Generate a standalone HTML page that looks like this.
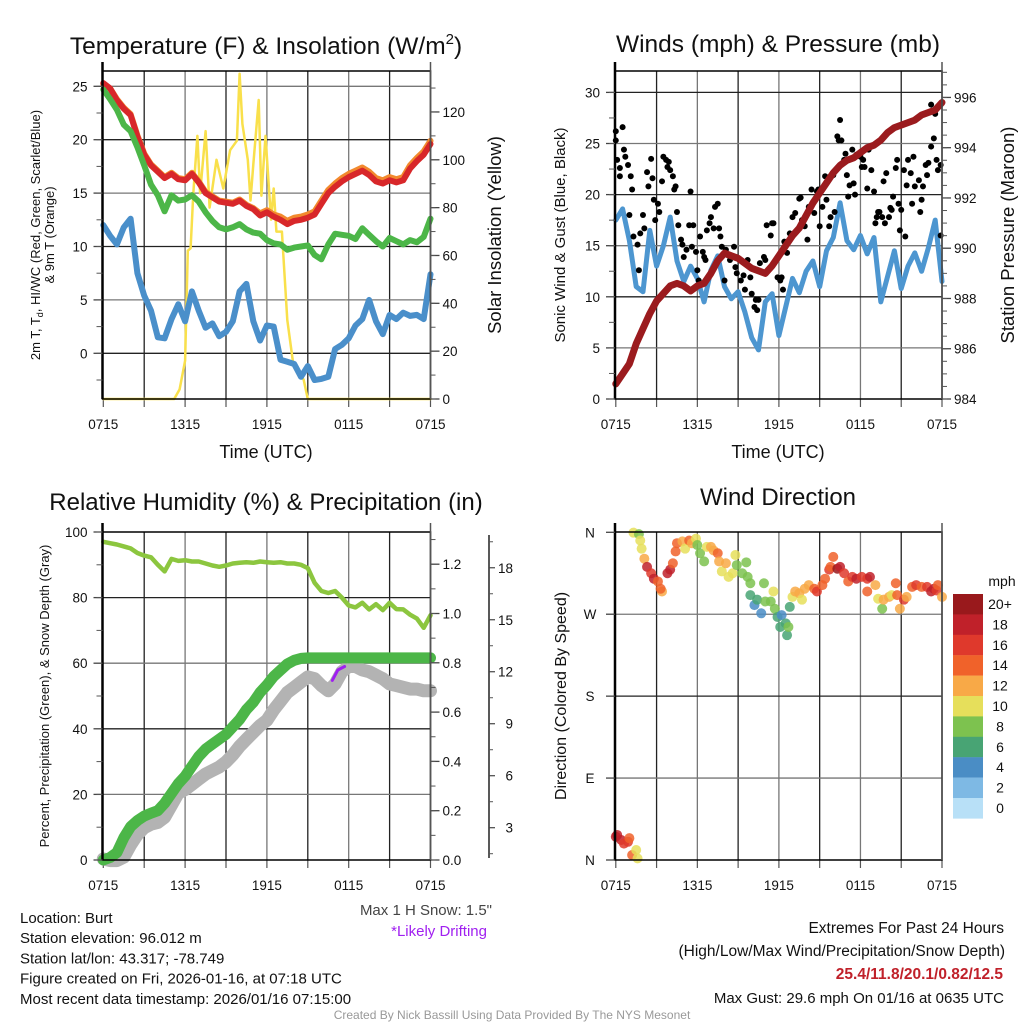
<!DOCTYPE html>
<html><head><meta charset="utf-8"><style>
html,body{margin:0;padding:0;background:#fff;}
svg{display:block;font-family:"Liberation Sans",Arial,sans-serif;}
</style></head><body>
<svg id="fig" width="1024" height="1024" viewBox="0 0 1024 1024" xmlns="http://www.w3.org/2000/svg"></svg>
<script>
// ---------- DATA (half-hourly, t = hours since 0715 UTC) ----------
const xLabels = ["0715","1315","1915","0115","0715"];
const tempRed = [25.3,24.8,23.7,22.9,22.3,20.3,18.6,17.6,17.0,16.4,16.8,16.3,16.2,16.8,16.0,15.0,14.6,14.2,14.1,14.0,14.3,13.8,13.5,12.9,13.2,12.8,12.5,12.1,12.4,12.5,12.7,13.0,14.0,15.0,15.6,16.1,16.5,16.8,17.1,16.7,16.1,15.9,16.2,16.0,16.2,17.3,18.0,18.6,19.6];
const temp9m = [25.2,24.8,23.8,23.0,22.4,20.4,18.7,17.7,17.1,16.5,16.9,16.4,16.3,16.9,16.1,15.1,14.7,14.3,14.2,14.1,14.4,13.9,13.6,13.1,13.4,13.0,12.8,12.4,12.7,12.8,13.0,13.3,14.3,15.3,15.9,16.4,16.8,17.1,17.4,17.0,16.4,16.2,16.5,16.3,16.5,17.6,18.3,18.9,19.9];
const tempGreen = [24.7,23.8,22.8,21.4,20.8,19.3,17.6,15.8,14.8,13.3,14.8,14.3,14.4,14.8,14.2,13.2,12.4,11.8,11.6,11.8,12.1,11.6,11.3,11.2,10.6,10.3,10.2,9.7,9.9,10.0,10.1,9.2,8.8,10.2,11.2,11.1,11.0,10.7,11.7,11.1,10.5,10.0,10.8,10.5,10.2,10.6,10.4,10.9,12.6];
const dewBlue = [12.0,11.0,10.2,11.8,12.6,7.5,5.4,4.0,1.5,1.4,3.2,4.6,3.0,5.8,4.0,2.4,2.8,1.6,2.0,3.0,5.8,6.5,3.0,1.2,2.6,2.5,-0.6,-0.8,-1.0,-2.2,-1.2,-2.5,-2.4,-2.2,0.4,0.8,1.4,2.6,3.2,5.0,3.0,1.8,3.6,3.2,3.8,3.5,3.6,3.2,7.4];
const solT = [0,5.2,5.6,6.0,6.2,6.4,6.6,6.9,7.1,7.5,7.8,8.3,8.8,9.3,9.8,10.0,10.2,10.6,10.8,11.0,11.4,11.6,11.9,12.3,12.5,12.7,13.1,13.5,13.9,14.3,14.7,15.0,24];
const solV = [0,0,4,16,62,63,86,110,86,112,80,100,88,104,108,136,115,100,83,98,125,85,110,75,88,70,70,33,16,12,8,0,0];
const windBlue = [17.5,18.6,15.5,11.0,10.5,16.5,13.0,15.0,17.8,13.5,11.5,13.0,11.8,9.5,12.6,14.0,11.0,9.8,10.5,8.5,6.0,4.8,9.5,10.3,6.2,9.0,11.8,10.4,12.5,13.5,11.0,14.5,15.8,19.2,15.5,14.6,16.0,14.2,15.8,9.5,12.0,14.5,10.8,13.0,14.3,12.5,14.8,17.5,11.5];
const pressure = [984.6,985.0,985.4,986.2,986.8,987.4,987.9,988.2,988.5,988.6,988.5,988.3,988.5,988.6,989.0,989.5,989.8,989.7,989.6,989.4,989.2,989.1,989.0,989.3,989.7,990.1,990.5,990.8,991.3,991.8,992.2,992.6,993.0,993.3,993.5,993.6,993.8,994.0,994.1,994.3,994.6,994.8,994.9,995.0,995.1,995.3,995.4,995.5,995.8];
const gustT = [0,0,0.1,0.3,0.5,0.6,0.7,0.9,0.3,1.1,1.2,1.0,1.3,1.6,1.7,1.8,2.0,2.1,2.3,2.4,2.6,2.7,2.8,2.9,3.1,3.2,3.4,3.5,3.7,3.8,3.9,4.0,4.2,4.3,4.4,4.5,4.6,4.8,4.9,5.0,5.2,5.4,5.5,5.6,5.7,5.9,6.0,6.1,6.2,6.4,6.5,6.6,6.7,6.9,7.0,7.2,7.3,7.5,7.6,7.7,7.8,8.0,8.1,8.2,8.4,8.7,8.8,8.9,9.2,9.4,9.5,9.7,9.9,10.0,10.2,10.3,10.4,10.5,10.6,10.9,11.0,11.1,11.4,11.5,11.6,11.9,12.1,12.2,12.3,12.4,12.6,12.8,13.0,13.2,13.5,13.6,13.7,13.9,14.1,14.2,14.4,14.6,14.8,14.9,15.0,15.2,15.4,15.5,15.7,15.8,16.0,16.1,16.3,16.4,16.5,16.6,16.8,16.9,17.0,17.1,17.2,17.4,17.5,17.6,17.7,18.0,18.1,18.2,18.3,18.5,18.6,18.8,19.0,19.1,19.2,19.3,19.4,19.6,19.7,19.8,19.9,20.1,20.2,20.3,20.4,20.6,20.7,20.8,20.9,21.0,21.2,21.3,21.4,21.5,21.7,21.8,21.9,22.0,22.3,22.4,22.5,22.6,22.8,22.9,23.0,23.2,23.2,23.4,23.5,23.6,23.7,23.9,23.9];
const gustV = [25.3,26.2,23.4,22.6,26.6,24.4,23.7,22.9,21.8,21.8,20.5,18.0,15.9,15.1,12.6,16.2,18.0,16.7,22.2,20.8,23.5,21.6,19.5,17.5,19.1,18.3,21.3,23.7,23.4,22.7,23.2,22.4,21.8,20.5,20.8,18.3,17.0,15.6,15.1,13.9,14.6,17.0,20.3,14.9,17.0,14.4,12.6,11.6,15.9,14.4,13.9,13.6,16.5,17.2,17.8,16.7,18.8,19.1,16.7,15.9,14.9,11.6,14.6,14.1,13.6,14.9,12.9,12.3,11.6,12.1,10.7,13.6,11.9,10.3,9.0,9.7,8.7,9.7,13.3,13.9,13.6,17.0,16.0,17.2,17.2,11.9,11.6,11.9,10.7,15.4,14.3,16.2,17.8,18.2,19.6,19.7,17.5,16.9,15.6,18.8,20.5,18.2,20.3,20.5,16.9,18.8,21.8,19.5,16.9,17.8,21.9,18.3,25.7,25.3,27.3,25.3,23.4,24.0,21.9,19.8,20.9,24.4,21.1,20.0,23.9,23.7,22.7,23.4,22.7,20.6,24.4,22.4,20.3,17.2,17.8,18.3,18.3,17.8,21.3,17.2,22.1,17.8,18.7,18.5,19.8,22.6,23.4,19.1,16.5,18.5,22.4,15.9,20.9,23.4,22.1,19.1,23.7,20.8,21.4,18.3,19.5,20.8,22.9,21.9,23.1,24.7,28.8,25.5,27.9,23.4,22.4,22.9,16.0];
const rh = [97.0,96.6,96.2,95.6,95.0,93.6,92.8,92.3,90.0,88.0,91.8,91.2,91.4,91.0,91.0,90.4,89.8,89.4,89.8,90.4,90.6,90.8,90.6,91.0,90.8,90.6,90.8,90.4,90.4,90.0,89.0,84.5,82.0,81.4,82.0,80.0,77.6,77.0,78.4,76.4,78.0,76.2,78.4,76.5,76.4,74.8,73.6,70.8,74.6];
const precip = [0.0,0.01,0.03,0.09,0.135,0.16,0.178,0.19,0.2,0.23,0.27,0.31,0.34,0.38,0.42,0.45,0.47,0.49,0.51,0.54,0.57,0.61,0.64,0.68,0.71,0.745,0.77,0.795,0.81,0.818,0.82,0.82,0.82,0.82,0.82,0.82,0.82,0.82,0.82,0.82,0.82,0.82,0.82,0.82,0.82,0.82,0.82,0.82,0.82];
const snow = [1.2,1.1,1.1,1.3,2.0,2.6,3.0,3.2,3.3,3.6,4.3,5.0,5.2,5.5,5.8,6.1,6.3,6.5,6.8,7.2,7.7,8.1,8.5,8.9,9.2,9.8,10.3,10.8,11.1,11.4,11.7,11.6,11.2,10.9,11.3,12.0,12.3,12.3,12.1,12.0,11.8,11.6,11.3,11.2,11.1,11.0,11.0,10.9,10.9];
const driftT = [16.8,17.2,17.7];
const driftV = [11.5,12.1,12.3];
const dirT = [0,0.1,0.4,0.6,0.9,1.0,1.2,1.5,1.6,1.3,1.7,1.8,1.9,2.1,2.3,2.6,2.8,3.1,3.4,3.3,3.8,4.0,4.2,4.4,4.5,4.9,5.1,5.4,5.6,5.9,6.0,6.2,6.5,6.7,7.0,7.2,7.5,7.6,7.8,8.1,8.3,8.6,8.8,8.9,9.3,9.6,9.7,9.9,9.9,10.2,10.4,10.7,10.9,11.0,11.4,11.6,11.7,11.9,12.2,12.1,12.5,12.6,12.7,12.8,13.0,13.2,13.5,13.7,13.9,14.2,14.6,14.8,15.2,15.4,15.7,15.8,16.0,16.3,16.5,16.8,17.1,17.4,17.7,18.1,18.5,18.7,18.5,19.1,19.3,19.6,19.7,20.1,20.3,20.6,20.7,20.9,21.2,21.4,21.8,22.1,22.5,22.9,23.2,23.4,23.6,23.7,24.0];
const dirV = [25.6,27.5,22,18,20,24,5.5,11,1.8,359.6,358,351,342,331,322,315,309,306,295,298,315,319,326,339,348,350,342,351,348,353,346,337,328,344,344,340,337,328,317,326,311,315,335,324,315,327,311,304,291,280,286,271,304,284,284,295,276,267,269,256,260,247,256,278,289,295,293,286,298,302,298,295,302,309,319,322,333,320,322,315,306,311,309,311,309,311,295,302,287,276,286,289,291,304,291,276,286,289,300,302,300,300,295,298,296,302,289];
const dirSpd = [18,18,18,16,16,14,14,10,10,10,8,10,10,12,18,16,18,14,12,14,18,18,14,14,14,12,10,14,12,10,8,8,8,10,12,12,14,12,10,12,10,10,10,8,8,8,8,8,6,4,6,4,8,8,8,10,8,6,4,6,6,6,8,6,10,12,12,10,12,12,14,16,14,14,16,14,14,20,18,16,14,16,18,16,16,18,14,12,10,8,12,12,10,14,14,12,16,12,14,16,14,16,18,18,16,14,12];
const cbLabels = ["20+","18","16","14","12","10","8","6","4","2","0"];
const cbColors = ["#99191c","#c0212a","#df392c","#f0622a","#f8a947","#e6df5b","#7dc24f","#48a474","#4a8dc5","#7eb9e4","#b8e0f7"];

// ---------- helpers ----------
const NS="http://www.w3.org/2000/svg";
const svg=document.getElementById('fig');
function mk(tag,attrs,parent,txt){const e=document.createElementNS(NS,tag);for(const k in attrs)e.setAttribute(k,attrs[k]);if(txt!==undefined)e.textContent=txt;(parent||svg).appendChild(e);return e;}
function grp(name){const g=mk('g',{});


return g;}
const halfT = tempRed.map((_,i)=>i*0.5);

function panel(name,L,R,T,B){
  const g=grp(name);
  return {g,L,R,T,B,x:t=>L+0.8+t*(R-L-0.8)/24};
}
function frame(P,vgrid,hgridYs){
  for(let h=3;h<24;h+=3){const x=P.x(h);const l=mk('line',{x1:x,x2:x,y1:P.T,y2:P.B,stroke:(h%6==0)?'#777':'#222','stroke-width':1.3},P.g);
  
  }
  hgridYs.forEach((y,i)=>{const l=mk('line',{x1:P.L,x2:P.R,y1:y,y2:y,stroke:i%2?'#222':'#777','stroke-width':1.3},P.g);
  
  });
  for(let h=0;h<=24;h+=3){const x=P.x(h);mk('line',{x1:x,x2:x,y1:P.B,y2:P.B+8,stroke:'#555','stroke-width':1.2},P.g);}
  xLabels.forEach((s,i)=>{const t=mk('text',{x:P.x(i*6),y:P.B+30,'font-size':13.5,'text-anchor':'middle',fill:'#111'},P.g,s);
  
  });
}
function box(P){
  const r=mk('rect',{x:P.L,y:P.T,width:P.R-P.L,height:P.B-P.T,fill:'none',stroke:'#000','stroke-width':1.5},P.g);
  
  
  mk('line',{x1:P.L,x2:P.L,y1:P.T-9,y2:P.B,stroke:'#000','stroke-width':2.5},P.g);
  mk('line',{x1:P.R,x2:P.R,y1:P.T-9,y2:P.B,stroke:'#555','stroke-width':1.5},P.g);
}
function leftAxis(P,vals,yf,minorStep,minVal,maxVal,fmt){
  vals.forEach(v=>{const y=yf(v);mk('line',{x1:P.L-9,x2:P.L,y1:y,y2:y,stroke:'#444','stroke-width':1.3},P.g);
  const t=mk('text',{x:P.L-15,y:y+5,'font-size':13.5,'text-anchor':'end',fill:'#111'},P.g,fmt?fmt(v):v);
  
  });
  if(minorStep)for(let v=minVal;v<=maxVal+1e-9;v+=minorStep){const y=yf(v);if(y<P.T-1||y>P.B+1)continue;mk('line',{x1:P.L-6,x2:P.L,y1:y,y2:y,stroke:'#555','stroke-width':1},P.g);}
}
function rightAxis(P,vals,yf,minorStep,minVal,maxVal,fmt,ax){
  const X=ax||P.R;
  vals.forEach(v=>{const y=yf(v);mk('line',{x1:X,x2:X+9,y1:y,y2:y,stroke:'#444','stroke-width':1.3},P.g);
  const t=mk('text',{x:X+12,y:y+5,'font-size':13.5,'text-anchor':'start',fill:'#111'},P.g,fmt?fmt(v):v);
  
  });
  if(minorStep)for(let v=minVal;v<=maxVal+1e-9;v+=minorStep){const y=yf(v);if(y<P.T-1||y>P.B+1)continue;mk('line',{x1:X,x2:X+5,y1:y,y2:y,stroke:'#555','stroke-width':1},P.g);}
}
function series(P,ts,vs,yf,color,w,name,op){
  const d=ts.map((t,i)=>(i?'L':'M')+P.x(t).toFixed(1)+','+yf(vs[i]).toFixed(1)).join('');
  const p=mk('path',{d,fill:'none',stroke:color,'stroke-width':w,'stroke-linejoin':'round','stroke-linecap':'round',opacity:op||1},P.g);
  
  
  return p;
}
function label(x,y,txt,size,rot,name,extra){
  const t=mk('text',Object.assign({x,y,'font-size':size,'text-anchor':'middle',fill:'#111'},rot?{transform:`rotate(${rot} ${x} ${y})`}:{} ,extra||{}),svg,txt);
  
  
  return t;
}

// ---------- Panel 1 ----------
const P1=panel('temperature-panel',102.5,430.5,71,399);
const y1=v=>353.3-v*10.68, y1r=v=>399-v*2.392;
frame(P1,true,[5,10,15,20,25].map(y1).concat([y1(0)]));
series(P1,solT,solV,y1r,'#f9e04b',2.5,'insolation-line');
series(P1,halfT,temp9m,y1,'#f28a2e',6,'temp-9m-line');
series(P1,halfT,tempRed,y1,'#d8272a',6,'temp-2m-line');
series(P1,halfT,tempGreen,y1,'#4cb648',6,'heat-index-line');
series(P1,halfT,dewBlue,y1,'#4a8fca',6,'dewpoint-line');
box(P1);
leftAxis(P1,[0,5,10,15,20,25],y1,2.5,-2.5,25);
rightAxis(P1,[0,20,40,60,80,100,120],y1r,10,0,130);
{const t=label(266,54,'Temperature (F) & Insolation (W/m',24.5,0,'temperature-title');mk('tspan',{dy:-10,'font-size':15},t,'2');mk('tspan',{dy:10},t,')');}
label(266,458,'Time (UTC)',18,0,'x-axis-title-1');
{const t=label(40,235,'2m T, T',13,-90,'temp-y-axis-title');mk('tspan',{dy:3,'font-size':9},t,'d');mk('tspan',{dy:-3},t,', HI/WC (Red, Green, Scarlet/Blue)');}
label(54,235,'& 9m T (Orange)',13,-90,'temp-y-axis-title-2');
label(501,235,'Solar Insolation (Yellow)',18.5,-90,'insolation-axis-title');

// ---------- Panel 2 ----------
const P2=panel('winds-panel',615,942,71,399);
const y2=v=>399-v*10.22, y2r=p=>399-(p-984)*25.13;
frame(P2,true,[5,10,15,20,25,30].map(y2));
series(P2,halfT,windBlue,y2,'#4d96d0',5,'sonic-wind-line');
gustT.forEach((t,i)=>{const c=mk('circle',{cx:P2.x(t),cy:y2(gustV[i]),r:3,fill:'#000'},P2.g);

});
series(P2,halfT,pressure,y2r,'#9b1b1e',7,'pressure-line');
box(P2);
leftAxis(P2,[0,5,10,15,20,25,30],y2,2.5,0,32.5);
rightAxis(P2,[984,986,988,990,992,994,996],y2r,0.5,984,997);
label(778,52,'Winds (mph) & Pressure (mb)',24.5,0,'winds-title');
label(778,458,'Time (UTC)',18,0,'x-axis-title-2');
label(565,235,'Sonic Wind & Gust (Blue, Black)',15,-90,'wind-y-axis-title');
label(1014,235,'Station Pressure (Maroon)',18.5,-90,'pressure-axis-title');

// ---------- Panel 3 ----------
const P3=panel('humidity-panel',102.5,430.5,532,860);
const y3=v=>860-v*3.28, y3p=p=>860-p*246.5, y3s=s=>879.7-s*17.33;
frame(P3,true,[20,40,60,80].map(y3));
series(P3,halfT,snow,y3s,'#b3b3b3',13,'snow-depth-line');
series(P3,driftT,driftV,y3s,'#a020f0',3,'drifting-line');
series(P3,halfT,precip,y3p,'#4cb648',11,'precip-line');
series(P3,halfT,rh,y3,'#8cc63f',4.5,'rh-line');
box(P3);
leftAxis(P3,[0,20,40,60,80,100],y3,10,0,100);
rightAxis(P3,[0,0.2,0.4,0.6,0.8,1.0,1.2],y3p,0.1,0,1.3,v=>v.toFixed(1));
{const l=mk('line',{x1:489,x2:489,y1:535,y2:858,stroke:'#222','stroke-width':1.5});

}
[3,6,9,12,15,18].forEach(s=>{const y=y3s(s);mk('line',{x1:489,x2:495,y1:y,y2:y,stroke:'#444','stroke-width':1.2});
const t=mk('text',{x:513,y:y+5,'font-size':13.5,'text-anchor':'end',fill:'#111'},svg,s);

});
for(let s=1.5;s<=19.5;s+=3){const y=y3s(s);mk('line',{x1:489,x2:493,y1:y,y2:y,stroke:'#555','stroke-width':1});}
label(266,510,'Relative Humidity (%) & Precipitation (in)',24,0,'humidity-title');
label(49,696,'Percent, Precipitation (Green), & Snow Depth (Gray)',13,-90,'humidity-y-axis-title');

// ---------- Panel 4 ----------
const P4=panel('wind-direction-panel',615,942,532,860);
const y4=d=>860-d*0.9103;
frame(P4,true,[90,180,270].map(y4));
dirT.forEach((t,i)=>{const idx=Math.min(10,Math.floor(dirSpd[i]/2));const c=mk('circle',{cx:P4.x(t),cy:y4(dirV[i]),r:5,fill:cbColors[10-idx],opacity:0.85},P4.g);

});
box(P4);
['N','E','S','W','N'].forEach((s,i)=>{const y=y4(i*90);mk('line',{x1:P4.L-9,x2:P4.L,y1:y,y2:y,stroke:'#444','stroke-width':1.3},P4.g);
const t=mk('text',{x:590,y:y+5,'font-size':13.5,'text-anchor':'middle',fill:'#111'},P4.g,s);

});
label(778,505,'Wind Direction',24,0,'wind-direction-title');
label(566,696,'Direction (Colored By Speed)',16,-90,'direction-y-axis-title');
label(1002,586,'mph',14,0,'colorbar-unit');
cbLabels.forEach((s,i)=>{const y=594+i*20.4;const r=mk('rect',{x:953,y:y,width:30,height:20.6,fill:cbColors[i]});


const t=mk('text',{x:1000,y:y+15,'font-size':14,'text-anchor':'middle',fill:'#111'},svg,s);

});

// ---------- Footer text ----------
['Location: Burt','Station elevation: 96.012 m','Station lat/lon: 43.317; -78.749','Figure created on Fri, 2026-01-16, at 07:18 UTC','Most recent data timestamp: 2026/01/16 07:15:00'].forEach((s,i)=>{
  const t=mk('text',{x:20,y:923+i*20.2,'font-size':15,fill:'#111'},svg,s);
  
  });
label(492,915,'Max 1 H Snow: 1.5"',15,0,'max-snow-note',{'text-anchor':'end',fill:'#444'});
label(487,936,'*Likely Drifting',15,0,'drifting-note',{'text-anchor':'end',fill:'#a020f0'});
label(1004,933,'Extremes For Past 24 Hours',15.5,0,'extremes-title',{'text-anchor':'end'});
label(1005,956,'(High/Low/Max Wind/Precipitation/Snow Depth)',15.5,0,'extremes-subtitle',{'text-anchor':'end'});
label(1003,979,'25.4/11.8/20.1/0.82/12.5',15.5,0,'extremes-values',{'text-anchor':'end',fill:'#c0212a','font-weight':'bold'});
label(1004,1003,'Max Gust: 29.6 mph On 01/16 at 0635 UTC',15,0,'max-gust-note',{'text-anchor':'end'});
label(512,1019,'Created By Nick Bassill Using Data Provided By The NYS Mesonet',12,0,'credit-line',{fill:'#999'});
</script>
</body></html>
